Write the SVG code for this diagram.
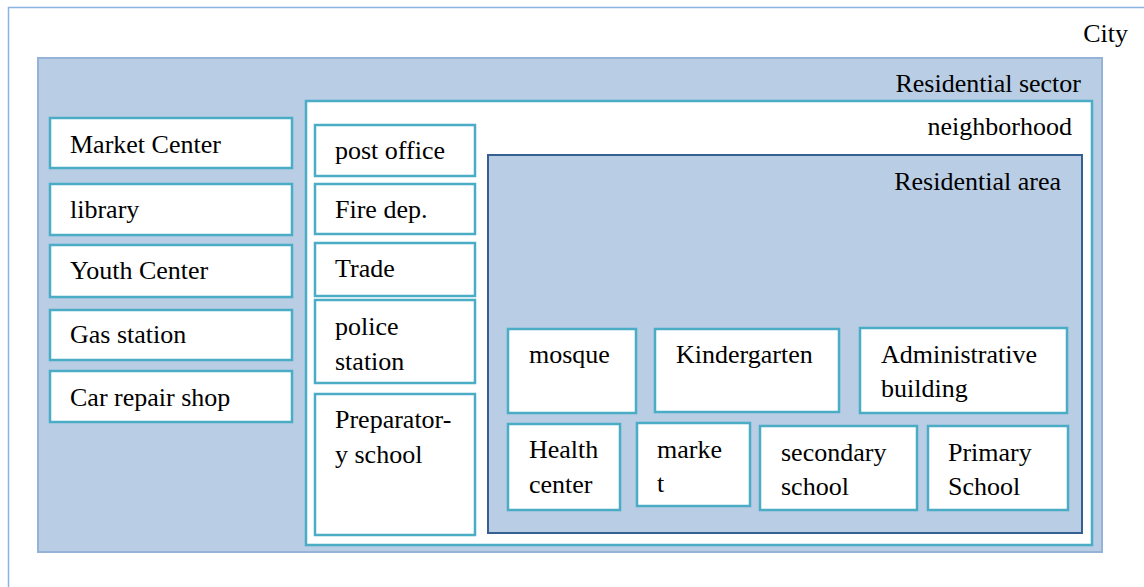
<svg xmlns="http://www.w3.org/2000/svg" width="1144" height="587" viewBox="0 0 1144 587">
<style>
text { font-family: "Liberation Serif", "DejaVu Serif", serif; font-size: 26px; fill: #000000; }
.end { text-anchor: end; }
.box { fill: #ffffff; stroke: #4bacc6; stroke-width: 2.5; }
.city { fill: #ffffff; stroke: #8db3e2; stroke-width: 1.5; }
.sector { fill: #b9cde5; stroke: #95b3d7; stroke-width: 2; }
.hood { fill: #ffffff; stroke: #4bacc6; stroke-width: 2.5; }
.area { fill: #b9cde5; stroke: #376092; stroke-width: 2; }
</style>
<rect width="1144" height="587" fill="#ffffff"/>
<g id="city">
  <rect class="city" x="8.5" y="7.5" width="1150" height="600"/>
  <text class="end" x="1128" y="42">City</text>
</g>
<g id="residential-sector">
  <rect class="sector" x="38" y="58" width="1064" height="494"/>
  <text class="end" x="1081" y="92">Residential sector</text>
</g>
<g id="market-center">
  <rect class="box" x="50" y="118" width="242" height="50"/>
  <text x="70" y="153">Market Center</text>
</g>
<g id="library">
  <rect class="box" x="50" y="184" width="242" height="51"/>
  <text x="70" y="218">library</text>
</g>
<g id="youth-center">
  <rect class="box" x="50" y="245" width="242" height="52"/>
  <text x="70" y="279">Youth Center</text>
</g>
<g id="gas-station">
  <rect class="box" x="50" y="310" width="242" height="50"/>
  <text x="70" y="343">Gas station</text>
</g>
<g id="car-repair-shop">
  <rect class="box" x="50" y="371" width="242" height="51"/>
  <text x="70" y="406">Car repair shop</text>
</g>
<g id="neighborhood">
  <rect class="hood" x="306" y="101" width="786" height="444"/>
  <text class="end" x="1072" y="135">neighborhood</text>
</g>
<g id="post-office">
  <rect class="box" x="315" y="125" width="160" height="51"/>
  <text x="335" y="159">post office</text>
</g>
<g id="fire-dep">
  <rect class="box" x="315" y="184" width="160" height="50"/>
  <text x="335" y="218">Fire dep.</text>
</g>
<g id="trade">
  <rect class="box" x="315" y="243" width="160" height="53"/>
  <text x="335" y="277">Trade</text>
</g>
<g id="police-station">
  <rect class="box" x="315" y="300" width="160" height="83"/>
  <text x="335" y="335">police</text>
  <text x="335" y="370">station</text>
</g>
<g id="preparatory-school">
  <rect class="box" x="315" y="394" width="160" height="141"/>
  <text x="335" y="428">Preparator-</text>
  <text x="335" y="463">y school</text>
</g>
<g id="residential-area">
  <rect class="area" x="488" y="155" width="594" height="378"/>
  <text class="end" x="1061" y="190">Residential area</text>
</g>
<g id="mosque">
  <rect class="box" x="508" y="329" width="128" height="84"/>
  <text x="529" y="363">mosque</text>
</g>
<g id="kindergarten">
  <rect class="box" x="655" y="329" width="184" height="83"/>
  <text x="676" y="363">Kindergarten</text>
</g>
<g id="administrative-building">
  <rect class="box" x="860" y="328" width="207" height="85"/>
  <text x="881" y="363">Administrative</text>
  <text x="881" y="397">building</text>
</g>
<g id="health-center">
  <rect class="box" x="508" y="424" width="112" height="86"/>
  <text x="529" y="458">Health</text>
  <text x="529" y="493">center</text>
</g>
<g id="market">
  <rect class="box" x="637" y="423" width="113" height="83"/>
  <text x="657" y="458">marke</text>
  <text x="657" y="492">t</text>
</g>
<g id="secondary-school">
  <rect class="box" x="760" y="426" width="157" height="84"/>
  <text x="781" y="461">secondary</text>
  <text x="781" y="495">school</text>
</g>
<g id="primary-school">
  <rect class="box" x="928" y="426" width="140" height="84"/>
  <text x="948" y="461">Primary</text>
  <text x="948" y="495">School</text>
</g>
<g id="connectors"></g>
</svg>
